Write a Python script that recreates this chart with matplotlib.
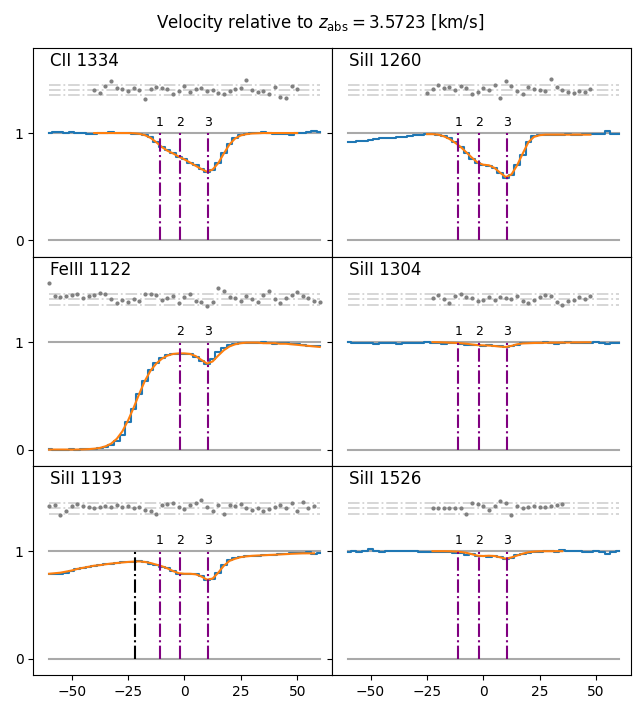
import numpy as np
import matplotlib
matplotlib.use('Agg')
import matplotlib.pyplot as plt


######################################################################
# Data
######################################################################

velocity = [-60, -57.5, -55, -52.5, -50, -47.5, -45, -42.5, -40, -37.5,
            -35, -32.5, -30, -27.5, -25, -22.5, -20, -17.5, -15, -12.5,
            -10, -7.5, -5, -2.5, 0, 2.5, 5, 7.5, 10, 12.5,
            15, 17.5, 20, 22.5, 25, 27.5, 30, 32.5, 35, 37.5,
            40, 42.5, 45, 47.5, 50, 52.5, 55, 57.5, 60]

line_names = ['CII 1334', 'SiII 1260', 'FeIII 1122',
              'SiII 1304', 'SiII 1193', 'SiII 1526']

# component velocities and labels
comp_vel = [-11, -2, 10.5]
comp_lab = ['1', '2', '3']
comps_shown = [[0, 1, 2], [0, 1, 2], [1, 2], [0, 1, 2], [0, 1, 2], [0, 1, 2]]
extra_vel = -22   # unlabeled black marker in SiII 1193

flux_cii1334 = [1.00, 1.01, 1.01, 1.005, 1.01, 1.005, 1.00, 0.995, 0.99, 1.00,
                1.00, 1.01, 1.00, 1.00, 1.00, 0.995, 0.995, 0.985, 0.96, 0.92,
                0.87, 0.84, 0.81, 0.775, 0.755, 0.725, 0.70, 0.665, 0.635, 0.655,
                0.72, 0.81, 0.90, 0.955, 0.98, 0.99, 1.00, 1.005, 1.01, 1.00,
                0.995, 0.995, 0.99, 0.985, 1.00, 1.005, 1.01, 1.015, 1.01]
flux_siii1260 = [0.915, 0.92, 0.925, 0.93, 0.935, 0.945, 0.95, 0.95, 0.955, 0.96,
                 0.965, 0.975, 0.985, 0.985, 0.99, 0.99, 0.985, 0.975, 0.95, 0.915,
                 0.87, 0.81, 0.76, 0.72, 0.70, 0.695, 0.675, 0.63, 0.585, 0.61,
                 0.70, 0.80, 0.92, 0.975, 0.985, 0.985, 0.985, 0.985, 0.985, 0.99,
                 0.985, 0.985, 0.99, 0.99, 0.99, 0.99, 1.015, 0.995, 0.99]
flux_feiii1122 = [0.005, 0.0, 0.0, 0.0, 0.005, 0.0, 0.005, 0.005, 0.005, 0.01,
                  0.02, 0.04, 0.08, 0.14, 0.26, 0.38, 0.52, 0.64, 0.74, 0.81,
                  0.855, 0.88, 0.89, 0.89, 0.89, 0.885, 0.86, 0.82, 0.80, 0.84,
                  0.91, 0.945, 0.97, 0.985, 0.99, 0.995, 0.99, 0.995, 1.0, 0.99,
                  0.985, 0.99, 0.995, 0.985, 0.98, 0.975, 0.965, 0.96, 0.965]
flux_siii1304 = [1.0, 0.995, 0.99, 0.995, 0.99, 0.985, 0.99, 0.995, 0.99, 0.985,
                 0.995, 0.99, 0.995, 0.99, 1.0, 0.995, 0.99, 0.985, 0.995, 0.99,
                 0.985, 0.975, 0.97, 0.97, 0.965, 0.97, 0.965, 0.96, 0.955, 0.96,
                 0.975, 0.99, 0.995, 0.99, 0.995, 1.0, 0.99, 0.985, 0.99, 1.0,
                 0.995, 0.99, 0.99, 0.995, 1.0, 0.99, 0.985, 0.995, 0.995]
flux_siii1193 = [0.785, 0.79, 0.79, 0.80, 0.815, 0.83, 0.845, 0.85, 0.86, 0.87,
                 0.88, 0.885, 0.89, 0.895, 0.90, 0.90, 0.905, 0.895, 0.885, 0.87,
                 0.855, 0.845, 0.82, 0.79, 0.785, 0.79, 0.785, 0.77, 0.735, 0.745,
                 0.80, 0.87, 0.915, 0.935, 0.945, 0.955, 0.955, 0.955, 0.96, 0.965,
                 0.965, 0.97, 0.975, 0.985, 0.98, 0.98, 0.99, 0.975, 0.98]
flux_siii1526 = [0.995, 1.0, 0.995, 1.0, 1.025, 1.0, 0.995, 1.0, 1.0, 1.0,
                 1.0, 0.998, 0.998, 0.996, 0.995, 0.995, 0.995, 0.99, 0.99, 0.985,
                 0.98, 0.96, 0.97, 0.955, 0.955, 0.95, 0.955, 0.945, 0.925, 0.94,
                 0.96, 0.975, 0.985, 0.99, 0.995, 1.0, 1.0, 0.995, 1.01, 1.005,
                 1.0, 1.0, 0.995, 0.99, 1.0, 0.995, 0.975, 0.995, 1.0]

# model fits: first velocity index on the grid, then the values
model_start = [8, 14, 0, 15, 0, 15]
model_cii1334 = [1.0, 1.0, 1.0, 1.0, 1.0, 1.0, 1.0, 0.998, 0.993, 0.98,
                 0.955, 0.915, 0.87, 0.835, 0.81, 0.78, 0.755, 0.725, 0.695, 0.665,
                 0.64, 0.66, 0.72, 0.81, 0.895, 0.95, 0.978, 0.99, 0.996, 0.998,
                 1.0, 1.0, 1.0, 1.0, 1.0, 1.0, 1.0]
model_siii1260 = [0.99, 0.99, 0.985, 0.97, 0.945, 0.91, 0.87, 0.82, 0.77, 0.725,
                  0.705, 0.70, 0.675, 0.63, 0.59, 0.615, 0.70, 0.81, 0.915, 0.965,
                  0.98, 0.985, 0.985, 0.985, 0.985, 0.985, 0.985, 0.985, 0.985, 0.985]
model_feiii1122 = [0.0, 0.0, 0.0, 0.0, 0.0, 0.0, 0.002, 0.004, 0.008, 0.015,
                   0.03, 0.055, 0.10, 0.17, 0.27, 0.39, 0.52, 0.64, 0.735, 0.80,
                   0.845, 0.875, 0.89, 0.895, 0.895, 0.89, 0.87, 0.835, 0.80, 0.82,
                   0.875, 0.925, 0.96, 0.98, 0.99, 0.995, 0.995, 0.995, 0.99, 0.99,
                   0.99, 0.985, 0.985, 0.98, 0.975, 0.97, 0.965, 0.96, 0.955]
model_siii1304 = [1.0, 0.999, 0.997, 0.995, 0.993, 0.99, 0.985, 0.978, 0.972, 0.97,
                  0.968, 0.964, 0.958, 0.955, 0.965, 0.98, 0.988, 0.99, 0.992, 0.993,
                  0.994, 0.995, 0.995, 0.996, 0.996, 0.997, 0.997, 0.998, 0.998]
model_siii1193 = [0.79, 0.795, 0.80, 0.81, 0.82, 0.835, 0.845, 0.855, 0.865, 0.87,
                  0.878, 0.885, 0.89, 0.895, 0.90, 0.903, 0.905, 0.90, 0.89, 0.875,
                  0.86, 0.84, 0.815, 0.795, 0.79, 0.79, 0.785, 0.765, 0.735, 0.745,
                  0.80, 0.865, 0.91, 0.93, 0.945, 0.952, 0.957, 0.96, 0.962, 0.965,
                  0.967, 0.97, 0.973, 0.976, 0.978, 0.98, 0.98, 0.98]
model_siii1526 = [1.0, 1.0, 1.0, 0.999, 0.997, 0.993, 0.985, 0.972, 0.958, 0.955,
                  0.958, 0.955, 0.943, 0.93, 0.942, 0.96, 0.977, 0.99, 0.996, 0.999,
                  1.0, 1.0, 1.0, 1.0]

# residuals (offset to 1.4), same velocities as the model
resid_cii1334 = [1.40, 1.37, 1.44, 1.48, 1.42, 1.41, 1.39, 1.42, 1.40, 1.32,
                 1.41, 1.43, 1.42, 1.41, 1.36, 1.39, 1.44, 1.38, 1.41, 1.42,
                 1.39, 1.40, 1.37, 1.36, 1.39, 1.41, 1.42, 1.49, 1.40, 1.38,
                 1.39, 1.36, 1.43, 1.34, 1.33, 1.44, 1.41]
resid_siii1260 = [1.37, 1.41, 1.45, 1.42, 1.43, 1.40, 1.44, 1.42, 1.36, 1.38,
                  1.42, 1.40, 1.45, 1.33, 1.48, 1.44, 1.39, 1.36, 1.43, 1.41,
                  1.40, 1.39, 1.50, 1.43, 1.40, 1.38, 1.37, 1.39, 1.38, 1.41]
resid_feiii1122 = [1.55, 1.43, 1.42, 1.43, 1.44, 1.45, 1.41, 1.43, 1.44, 1.46,
                   1.45, 1.40, 1.36, 1.39, 1.37, 1.40, 1.38, 1.45, 1.45, 1.44,
                   1.39, 1.41, 1.43, 1.36, 1.42, 1.45, 1.38, 1.37, 1.34, 1.37,
                   1.50, 1.48, 1.42, 1.41, 1.38, 1.43, 1.40, 1.37, 1.44, 1.48,
                   1.40, 1.36, 1.41, 1.44, 1.47, 1.43, 1.41, 1.38, 1.37]
resid_siii1304 = [1.41, 1.44, 1.40, 1.36, 1.43, 1.45, 1.42, 1.41, 1.38, 1.39,
                  1.42, 1.39, 1.42, 1.41, 1.40, 1.43, 1.38, 1.36, 1.39, 1.42,
                  1.44, 1.43, 1.37, 1.35, 1.38, 1.39, 1.42, 1.40, 1.43]
resid_siii1193 = [1.42, 1.43, 1.34, 1.37, 1.42, 1.44, 1.42, 1.41, 1.40, 1.41,
                  1.42, 1.41, 1.43, 1.41, 1.42, 1.40, 1.41, 1.38, 1.37, 1.35,
                  1.43, 1.44, 1.45, 1.41, 1.39, 1.43, 1.45, 1.48, 1.41, 1.37,
                  1.43, 1.35, 1.43, 1.42, 1.44, 1.40, 1.38, 1.40, 1.37, 1.39,
                  1.41, 1.43, 1.40, 1.45, 1.37, 1.46, 1.40, 1.42]
resid_siii1526 = [1.40, 1.40, 1.40, 1.40, 1.40, 1.40, 1.35, 1.45, 1.44, 1.42,
                  1.38, 1.42, 1.47, 1.45, 1.34, 1.42, 1.40, 1.41, 1.42, 1.41,
                  1.41, 1.42, 1.43, 1.44]

fluxes = [flux_cii1334, flux_siii1260, flux_feiii1122,
          flux_siii1304, flux_siii1193, flux_siii1526]
models = [model_cii1334, model_siii1260, model_feiii1122,
          model_siii1304, model_siii1193, model_siii1526]
resids = [resid_cii1334, resid_siii1260, resid_feiii1122,
          resid_siii1304, resid_siii1193, resid_siii1526]

resid_levels = [1.35, 1.40, 1.45]


######################################################################
# Figure
######################################################################

vel = np.asarray(velocity)

fig, axes = plt.subplots(
    nrows=3,
    ncols=2,
    figsize=(6.4, 7.02),
    sharex=True,
    sharey=True
)
fig.subplots_adjust(left=0.052, right=0.986, top=0.932, bottom=0.0385,
                    wspace=0, hspace=0)

for iline, ax in enumerate(axes.ravel()):

    vmin, vmax = vel.min(), vel.max()

    # continuum and zero levels
    ax.plot([vmin, vmax], [1, 1], color='darkgray', lw=1.5, zorder=1)
    ax.plot([vmin, vmax], [0, 0], color='darkgray', lw=1.5, zorder=1)

    # residual reference lines
    for level in resid_levels:
        ax.plot([vmin, vmax], [level, level], color='lightgray',
                ls='-.', lw=1.3, zorder=1)

    # data
    ax.plot(vel, fluxes[iline], drawstyle='steps-mid', color='tab:blue',
            lw=1.5, zorder=2)

    # model and residuals
    i0 = model_start[iline]
    mvel = vel[i0:i0 + len(models[iline])]
    ax.plot(mvel, models[iline], color='tab:orange', lw=1.5, zorder=3)
    ax.scatter(mvel, resids[iline], s=4, color='gray', zorder=3)

    # component markers
    for icomp in comps_shown[iline]:
        ax.plot([comp_vel[icomp], comp_vel[icomp]], [0, 1], color='purple',
                ls='-.', lw=1.5, zorder=4)
        ax.text(comp_vel[icomp], 1.04, comp_lab[icomp], ha='center',
                va='bottom', fontsize=9)

    if line_names[iline] == 'SiII 1193':
        ax.plot([extra_vel, extra_vel], [0, 1], color='black',
                ls='-.', lw=1.5, zorder=4)

    ax.text(-59.5, 1.67, line_names[iline], fontsize=12, va='center')

axes[0, 0].set_xlim(-67, 65.5)
axes[0, 0].set_ylim(-0.152, 1.794)
axes[0, 0].set_xticks([-50, -25, 0, 25, 50])
axes[0, 0].set_yticks([0, 1])

fig.suptitle(r'Velocity relative to $z_{\rm abs} = 3.5723$ [km/s]',
             fontsize=12, y=0.983)

plt.savefig('out.png', dpi=100)
plt.close()
